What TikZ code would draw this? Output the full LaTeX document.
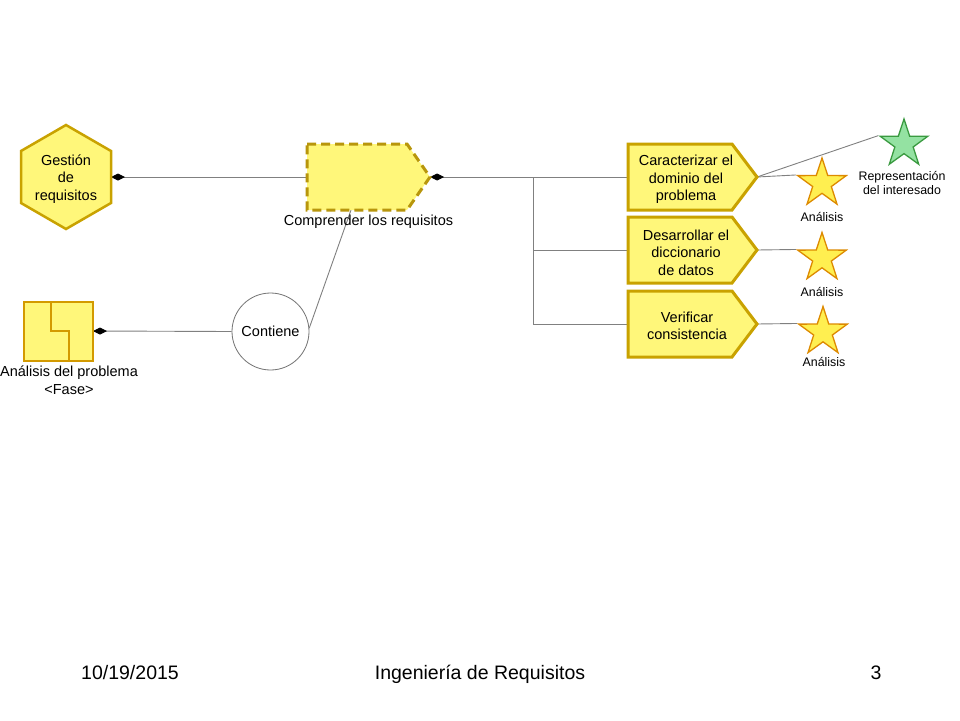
\documentclass[tikz,border=0pt]{standalone}
\usepackage{fontspec}
\setmainfont{Liberation Sans}
\usetikzlibrary{shapes.geometric,arrows.meta}
\definecolor{yfill}{HTML}{FFF77A}
\definecolor{yline}{HTML}{C9A200}
\definecolor{dline}{HTML}{B8960C}
\definecolor{sfill}{HTML}{FFEF50}
\definecolor{sline}{HTML}{DD8A00}
\definecolor{gfill}{HTML}{94E2A2}
\definecolor{gline}{HTML}{3A9A40}
\definecolor{connc}{HTML}{808080}
\definecolor{pline}{HTML}{D39A00}
\begin{document}
\begin{tikzpicture}[x=1pt,y=-1pt,
  lbl/.style={font=\fontsize{14.5}{17.5}\selectfont, align=center, inner sep=0pt},
  small/.style={font=\fontsize{12.4}{14}\selectfont, align=center, inner sep=0pt},
  foot/.style={font=\fontsize{19.5}{22}\selectfont, anchor=base, inner sep=0pt},
  taskbox/.style={fill=yfill, draw=yline, line width=3pt, line join=miter},
  connline/.style={draw=connc, line width=0.9pt},
  dia/.style={{Diamond[length=14pt,width=7pt,color=black]}-},
  ystar/.style={star, star points=5, star point ratio=2.6, minimum size=51pt, inner sep=0pt, fill=sfill, draw=sline, line width=1.3pt},
  gstar/.style={star, star points=5, star point ratio=2.6, minimum size=50pt, inner sep=0pt, fill=gfill, draw=gline, line width=1.3pt},
]
\useasboundingbox (0,0) rectangle (960,720);
\fill[white] (0,0) rectangle (960,720);

% coordinates
\coordinate (gestE) at (111,177);
\coordinate (compW) at (307,177);
\coordinate (compE) at (430,177);
\coordinate (compB) at (351,210);
\coordinate (split) at (533,177);
\coordinate (t1W) at (628,177);
\coordinate (t1E) at (757,177);
\coordinate (t2W) at (628,250);
\coordinate (t2E) at (757,250);
\coordinate (t3W) at (628,324);
\coordinate (t3E) at (757,324);
\coordinate (phaseE) at (93,331);

% nodes: circle and stars
\node[circle, draw=connc!90!black, line width=0.8pt, minimum size=77pt, inner sep=0pt, font=\fontsize{14.5}{17.5}\selectfont] (cont) at (270.5,331.5) {Contiene};
\node[ystar] (s1) at (822,183.5) {};
\node[ystar] (s2) at (822,258) {};
\node[ystar] (s3) at (823,332) {};
\node[gstar] (g) at (904,144) {};

% connectors
\draw[connline, dia] (gestE) -- (compW);
\draw[connline, dia] (compE) -- (t1W);
\draw[connline] (split) |- (t2W);
\draw[connline] (split) |- (t3W);
\draw[connline, dia] (phaseE) -- (cont.west);
\draw[connline] (compB) -- (cont.5);
\draw[connline] (t1E) -- (s1.outer point 2);
\draw[connline] (t1E) -- (g.outer point 2);
\draw[connline] (t2E) -- (s2.outer point 2);
\draw[connline] (t3E) -- (s3.outer point 2);

% hexagon
\draw[fill=yfill, draw=yline, line width=2.5pt, line join=miter] (66,125) -- (111,151) -- (111,203) -- (66,229) -- (21,203) -- (21,151) -- cycle;
\node[lbl] (gest) at (66,179) {Gestión\\de\\requisitos};

% comprender (dashed)
\draw[fill=yfill, draw=dline, line width=3pt, dash pattern=on 9pt off 5pt] (307,144) -- (407,144) -- (430,177) -- (407,210) -- (307,210) -- cycle;
\node[lbl] (complbl) at (368.5,222) {Comprender los requisitos};

% tasks
\draw[taskbox] (628,144) -- (732,144) -- (757,177) -- (732,210) -- (628,210) -- cycle;
\node[lbl] (t1) at (686,179.5) {Caracterizar el\\dominio del\\problema};
\draw[taskbox] (628,217) -- (732,217) -- (757,250) -- (732,283) -- (628,283) -- cycle;
\node[lbl] (t2) at (686,252.5) {Desarrollar el\\diccionario\\de datos};
\draw[taskbox] (628,291) -- (732,291) -- (757,324) -- (732,357) -- (628,357) -- cycle;
\node[lbl] (t3) at (687,326) {Verificar\\consistencia};

% phase icon
\draw[fill=yfill, draw=pline, line width=1.5pt] (24,302) rectangle (93,361);
\draw[draw=pline, line width=1.5pt] (51,302) -- (51,331) -- (69,331) -- (69,361);
\node[lbl] (phase) at (69,380) {Análisis del problema\\<Fase>};

% star labels
\node[small] (a1) at (822,217) {Análisis};
\node[small] (a2) at (822,292) {Análisis};
\node[small] (a3) at (824,362) {Análisis};
\node[small] (gl) at (902,183) {Representación\\del interesado};

% footer
\node[foot] (date) at (130,679) {10/19/2015};
\node[foot] (title) at (480,679) {Ingeniería de Requisitos};
\node[foot] (pg) at (876,679) {3};
\end{tikzpicture}
\end{document}
